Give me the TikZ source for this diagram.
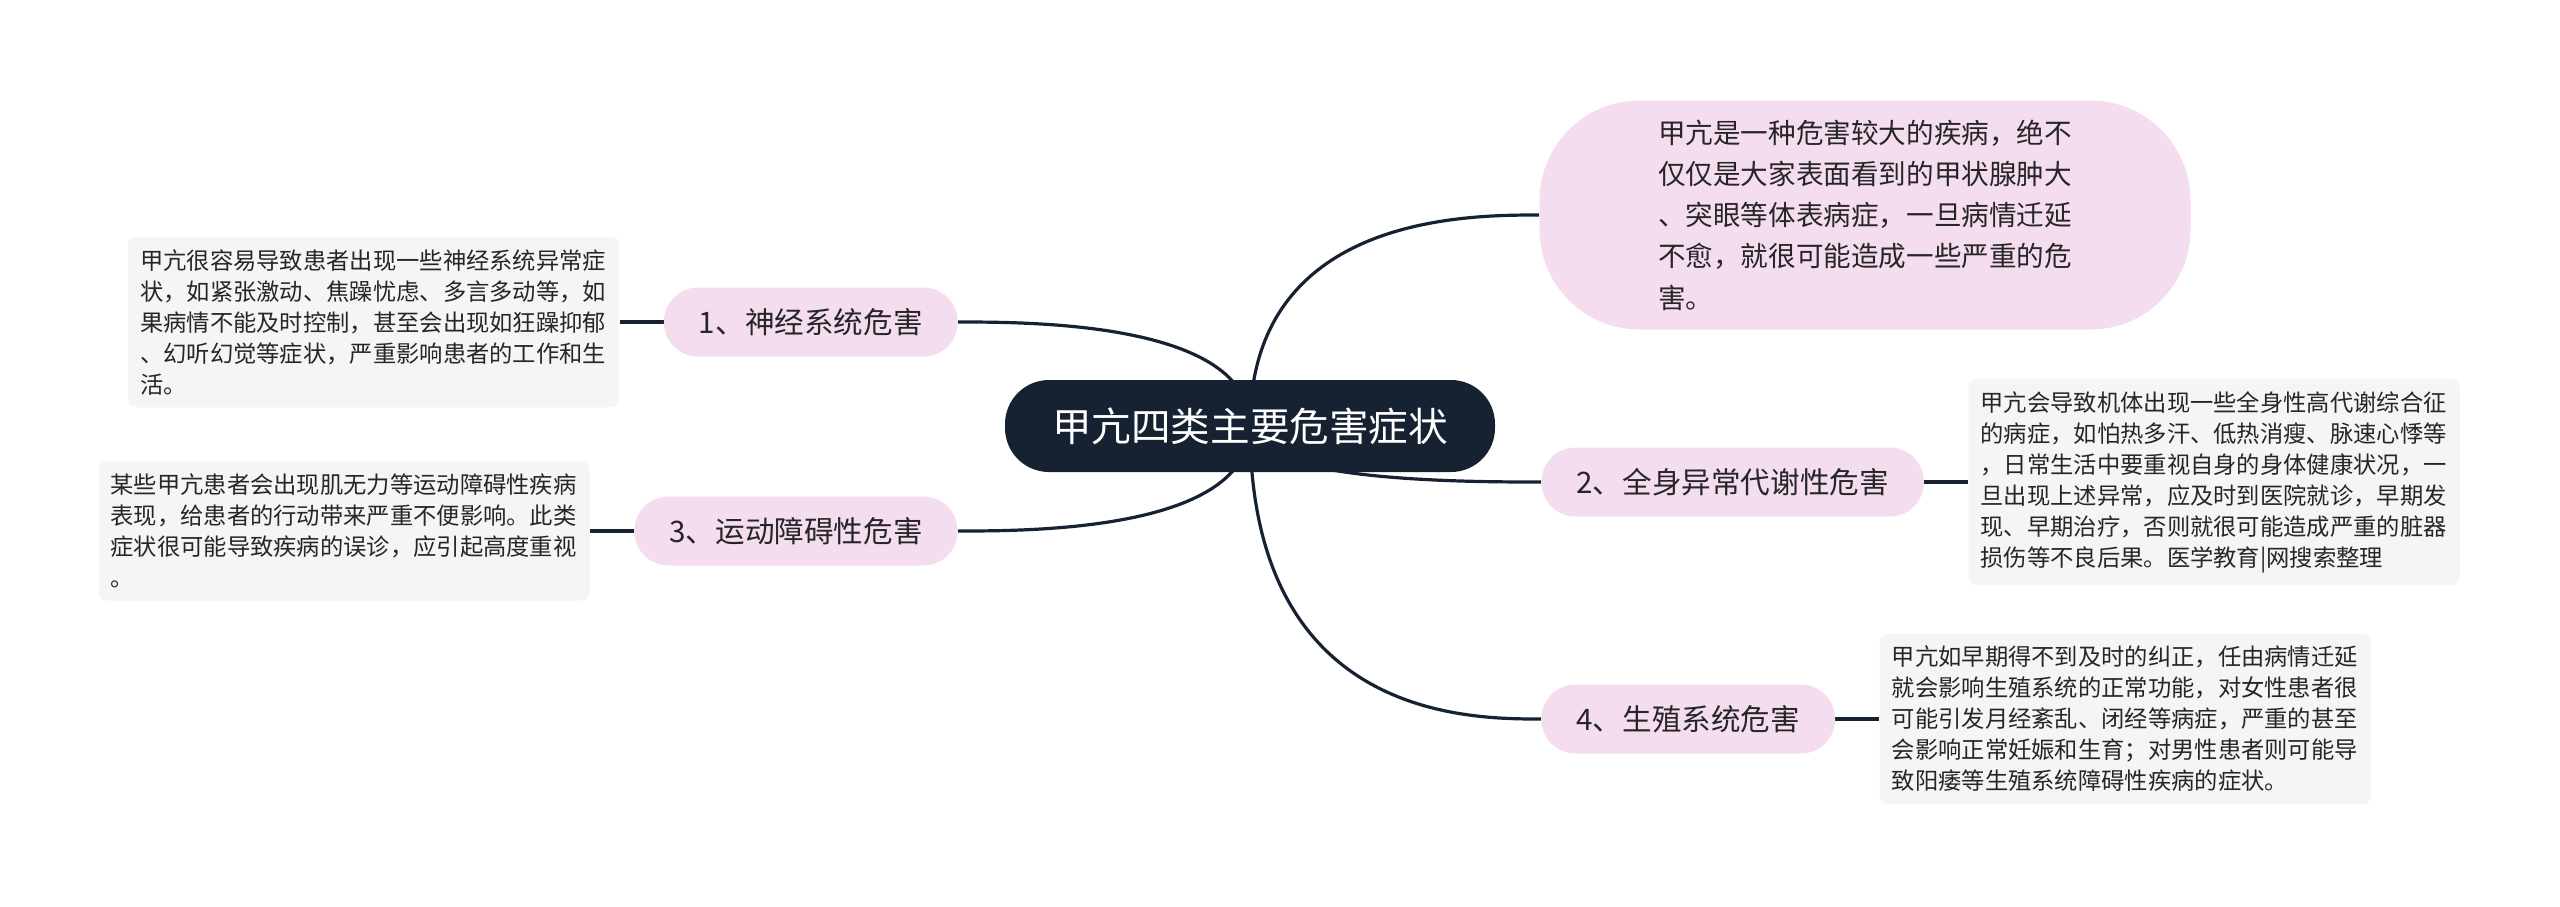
\documentclass[tikz,border=0pt]{standalone}
\usepackage{fontspec}
\setmainfont{Noto Sans CJK SC}
\usetikzlibrary{positioning,calc,backgrounds}

\definecolor{hubblue}{RGB}{22,34,50}
\definecolor{topicpink}{RGB}{245,221,240}
\definecolor{notegray}{RGB}{245,245,245}
\definecolor{inkgray}{RGB}{38,38,38}

\begin{document}
\begin{tikzpicture}[
  x=0.5pt, y=-0.5pt,
  node distance=22pt,
  hub/.style={fill=hubblue, text=white, rounded corners=22pt, minimum height=46pt,
              inner xsep=23.5pt, font=\fontsize{19.8}{24}\selectfont},
  topic/.style={fill=topicpink, text=inkgray, rounded corners=17pt, minimum height=34.5pt,
                inner xsep=17.5pt, font=\fontsize{14.8}{18}\selectfont},
  note/.style={fill=notegray, text=inkgray, rounded corners=4pt, align=left,
               text width=233.5pt, inner xsep=6pt, inner ysep=6.2pt,
               font=\fontsize{11.65}{15.5}\selectfont},
  link/.style={draw=hubblue, line width=1.6pt}
]
\path[use as bounding box] (0,0) rectangle (2560,906);

\node[hub] (hub) at (1250,426) {甲亢四类主要危害症状};
\node[topic, rounded corners=50pt, minimum width=325.5pt, minimum height=114.5pt,
      align=left, font=\fontsize{13.8}{20.65}\selectfont] (harm) at (1865,215)
  {甲亢是一种危害较大的疾病，绝不\\仅仅是大家表面看到的甲状腺肿大\\、突眼等体表病症，一旦病情迁延\\不愈，就很可能造成一些严重的危\\害。};
\node[topic, anchor=east] (nerve) at (958,322) {1、神经系统危害};
\node[topic, anchor=west] (meta) at (1541,482) {2、全身异常代谢性危害};
\node[topic, anchor=east] (motor) at (958,531) {3、运动障碍性危害};
\node[topic, anchor=west] (repro) at (1541,719) {4、生殖系统危害};

\node[note, left=of nerve] (nervenote)
  {甲亢很容易导致患者出现一些神经系统异常症\\状，如紧张激动、焦躁忧虑、多言多动等，如\\果病情不能及时控制，甚至会出现如狂躁抑郁\\、幻听幻觉等症状，严重影响患者的工作和生\\活。};
\node[note, right=of meta] (metanote)
  {甲亢会导致机体出现一些全身性高代谢综合征\\的病症，如怕热多汗、低热消瘦、脉速心悸等\\，日常生活中要重视自身的身体健康状况，一\\旦出现上述异常，应及时到医院就诊，早期发\\现、早期治疗，否则就很可能造成严重的脏器\\损伤等不良后果。医学教育|网搜索整理};
\node[note, left=of motor] (motornote)
  {某些甲亢患者会出现肌无力等运动障碍性疾病\\表现，给患者的行动带来严重不便影响。此类\\症状很可能导致疾病的误诊，应引起高度重视\\。};
\node[note, right=of repro] (repronote)
  {甲亢如早期得不到及时的纠正，任由病情迁延\\就会影响生殖系统的正常功能，对女性患者很\\可能引发月经紊乱、闭经等病症，严重的甚至\\会影响正常妊娠和生育；对男性患者则可能导\\致阳痿等生殖系统障碍性疾病的症状。};

\begin{scope}[on background layer]
  \fill[white] (0,0) rectangle (2560,906);
  \foreach \t/\a in {harm/west, nerve/east, meta/west, motor/east, repro/west}
    \draw[link] (hub.center) .. controls (hub.center |- \t.\a)
      and ($(hub.center |- \t.\a)!.75!(\t.\a)$) .. (\t.\a);
  \draw[link] (nerve) -- (nervenote);
  \draw[link] (meta) -- (metanote);
  \draw[link] (motor) -- (motornote);
  \draw[link] (repro) -- (repronote);
\end{scope}
\end{tikzpicture}
\end{document}
